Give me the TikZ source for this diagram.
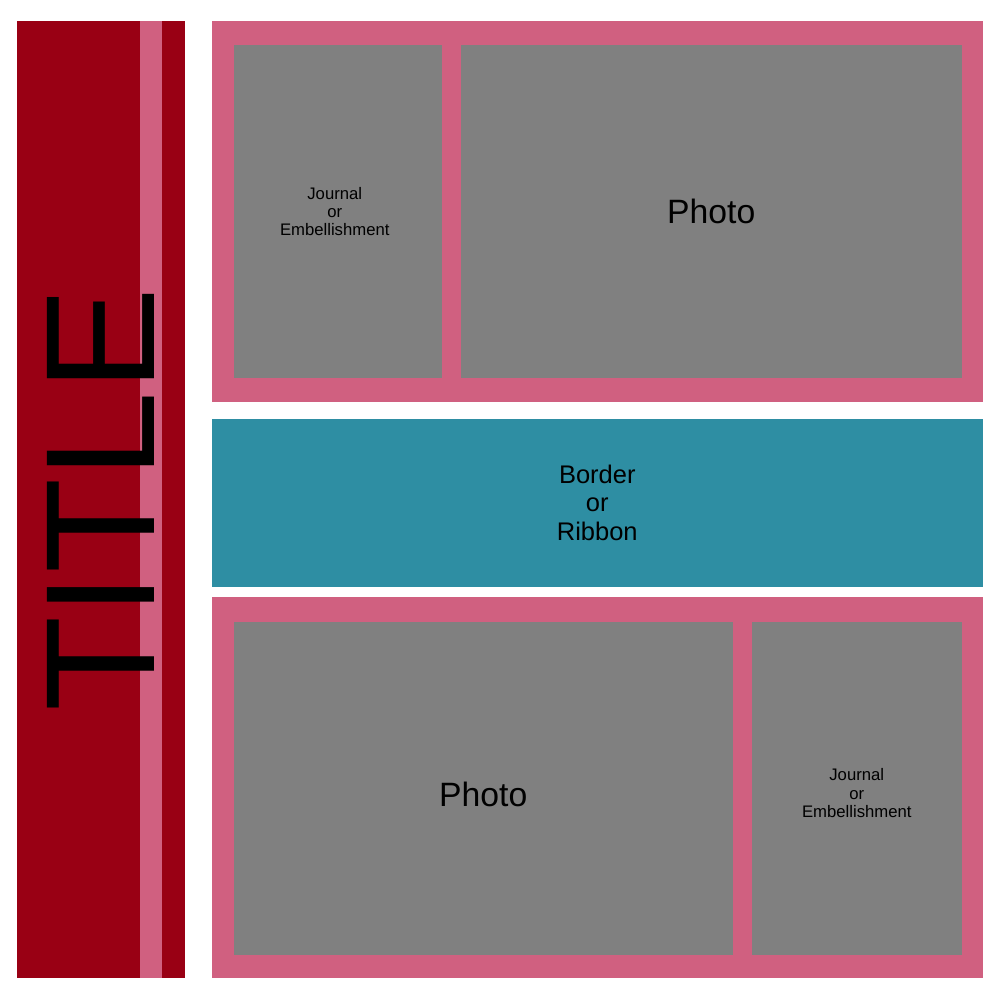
\documentclass[tikz,border=0pt]{standalone}
\usepackage{fontspec}
\setmainfont{Liberation Sans}
\usepackage{tikz}
\usetikzlibrary{positioning}
\definecolor{titlered}{RGB}{153,0,20}
\definecolor{matpink}{RGB}{208,96,128}
\definecolor{photogray}{RGB}{128,128,128}
\definecolor{ribbonteal}{RGB}{46,142,163}

\begin{document}
\begin{tikzpicture}[y=-1cm, inner sep=0pt, outer sep=0pt,
	mat/.style={rectangle, fill=matpink, minimum width=7.705cm},
	photo/.style={rectangle, fill=photogray, minimum height=3.33cm},
	bigtext/.style={font=\fontsize{9.6}{12}\selectfont},
	smalltext/.style={align=center, font=\fontsize{4.75}{5.2}\selectfont},
	ribbontext/.style={align=center, font=\fontsize{7.25}{8.2}\selectfont}]
			\useasboundingbox (0,0) rectangle (10,10);
			% title strip
			\node[fill=titlered, minimum width=1.675cm, minimum height=9.57cm] (strip) at (1.0075,4.995) {};
			\node[fill=matpink, minimum width=0.22cm, minimum height=9.57cm] (stripe) at (1.51,4.995) {};
			\node[rotate=90, font=\fontsize{44.3}{45}\selectfont] (title) at (1.005,5.0) {TITLE};
			% top row
			\node[mat, minimum height=3.815cm] (topmat) at (5.9725,2.1175) {};
			\node[photo, minimum width=2.085cm] (journalA) at (3.3775,2.115) {};
			\node[photo, minimum width=5.005cm] (photoA) at (7.1125,2.115) {};
			\node[smalltext] (journalAtext) at ([xshift=-0.03cm]journalA.center) {Journal\\or\\Embellishment};
			\node[bigtext] (photoAtext) at (photoA.center) {Photo};
			% ribbon
			\node[fill=ribbonteal, minimum width=7.705cm, minimum height=1.675cm] (ribbon) at (5.9725,5.0275) {};
			\node[ribbontext] (ribbontext) at (ribbon.center) {Border\\or\\Ribbon};
			% bottom row
			\node[mat, minimum height=3.81cm] (botmat) at (5.9725,7.875) {};
			\node[photo, minimum width=4.995cm] (photoB) at (4.8325,7.8825) {};
			\node[photo, minimum width=2.095cm] (journalB) at (8.5675,7.8825) {};
			\node[bigtext] (photoBtext) at ([yshift=-0.06cm]photoB.center) {Photo};
			\node[smalltext] (journalBtext) at ([yshift=-0.05cm]journalB.center) {Journal\\or\\Embellishment};
		\end{tikzpicture}
\end{document}
